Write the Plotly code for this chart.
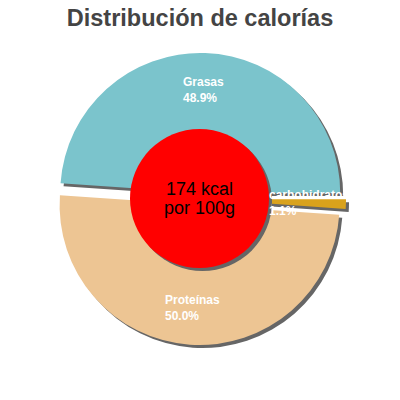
import math
import plotly.graph_objects as go

labels = ["Grasas", "carbohidratos", "Proteínas"]
values = [48.9, 1.1, 50.0]
colors = ["#7bc4cc", "#d9a21c", "#edc593"]
kcal_lines = ["174 kcal", "por 100g"]
title = "Distribución de calorías"

# page body has an 8px margin, so everything is drawn 8px up/left
OFF = 8
W = 400


def px(x):
    return (x - OFF) / W


def py(y):
    return 1 - (y - OFF) / W


# pie geometry (pixels in the picture)
cx, cy = 200, 199
r_out = 140
pull = 0.043
r_dom = r_out * (1 + pull)
hole = 0.45
start = 274  # degrees clockwise from 12 o'clock
sh = 3
font = "Liberation Sans, Arial"


def dom(dx, dy):
    return dict(x=[px(cx - r_dom + dx), px(cx + r_dom + dx)],
                y=[py(cy + r_dom + dy), py(cy - r_dom + dy)])


fig = go.Figure()

# shadow
fig.add_trace(go.Pie(labels=labels, values=values, sort=False, direction="clockwise",
                     rotation=start - 360, hole=hole, pull=pull, domain=dom(sh, sh),
                     marker=dict(colors=["#666666"] * 3, line=dict(width=0)),
                     textinfo="none", hoverinfo="skip", showlegend=False))

fig.add_trace(go.Pie(labels=labels, values=values, sort=False, direction="clockwise",
                     rotation=start - 360, hole=hole, pull=pull, domain=dom(0, 0),
                     marker=dict(colors=colors, line=dict(width=0)),
                     textinfo="none", showlegend=False))

# slice labels on the bisector of each slice
total = sum(values)
cum = 0
r_lab = 109
for lab, v in zip(labels, values):
    a = math.radians(start + (cum + v / 2) / total * 360)
    cum += v
    x = cx + r_lab * math.sin(a)
    y = cy - r_lab * math.cos(a)
    fig.add_annotation(text="<b>%s<br>%.1f%%</b>" % (lab, v / total * 100),
                       xref="paper", yref="paper", x=px(x), y=py(y),
                       xanchor="center", yanchor="middle", align="left", showarrow=False,
                       font=dict(family=font, size=12, color="white"))

rc = 69.5
ccx, ccy = 199.5, 198.5
fig.add_shape(type="circle", xref="paper", yref="paper", layer="above",
              x0=px(ccx - rc + sh), x1=px(ccx + rc + sh),
              y0=py(ccy + rc + sh), y1=py(ccy - rc + sh),
              fillcolor="#666666", line=dict(width=0))
fig.add_shape(type="circle", xref="paper", yref="paper", layer="above",
              x0=px(ccx - rc), x1=px(ccx + rc),
              y0=py(ccy + rc), y1=py(ccy - rc),
              fillcolor="#ff0000", line=dict(width=0))

for i, line in enumerate(kcal_lines):
    fig.add_annotation(text=line, xref="paper", yref="paper", x=px(ccx), y=py(189 + 19 * i),
                       xanchor="center", yanchor="middle", showarrow=False,
                       font=dict(family=font, size=18, color="black"))

fig.update_layout(
    width=400, height=400,
    margin=dict(l=0, r=0, t=0, b=0),
    paper_bgcolor="white",
    title=dict(text="<b>" + title + "</b>", x=px(200), y=py(18), xanchor="center", yanchor="middle",
               font=dict(family=font, size=23.5, color="#444444")),
)

fig.write_html("out.html")
